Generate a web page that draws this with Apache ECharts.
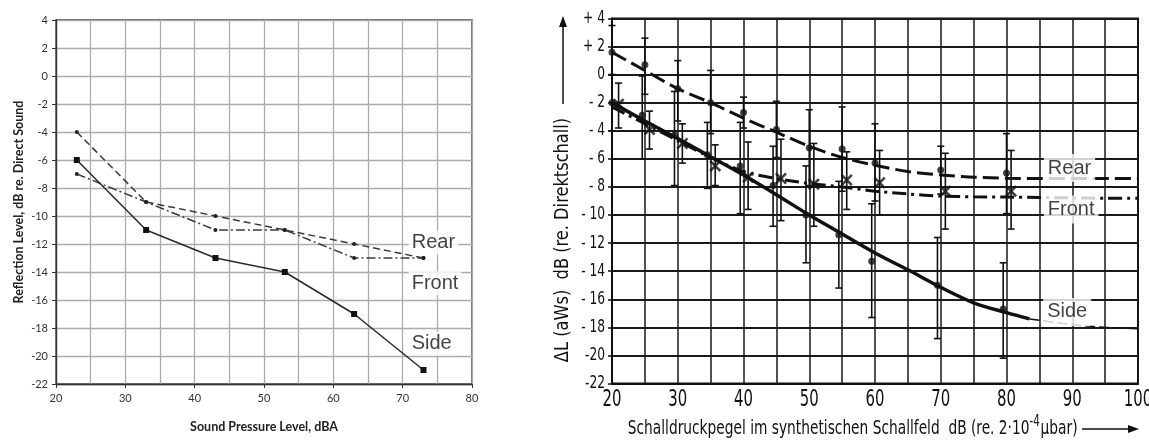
<!DOCTYPE html>
<html>
<head>
<meta charset="utf-8">
<script src="https://cdn.jsdelivr.net/npm/echarts@6/dist/echarts.min.js"></script>
<style>
html,body{margin:0;padding:0;background:#fff;}
#chart{width:1149px;height:440px;}
</style>
</head>
<body>
<div id="chart"></div>
<script>
// ---------- Left chart (Excel re-plot) ----------
const leftX = [23, 33, 43, 53, 63, 73];
const leftRear = [-4, -9, -10, -11, -12, -13];
const leftFront = [-7, -9, -11, -11, -13, -13];
const leftSide = [-6, -11, -13, -14, -17, -21];
const leftXTicks = [20, 30, 40, 50, 60, 70, 80];
const leftYTicks = [4, 2, 0, -2, -4, -6, -8, -10, -12, -14, -16, -18, -20, -22];
const leftLabels = ['Rear', 'Front', 'Side'];
const leftLabelPos = [[70.8, -11.9], [70.8, -14.8], [70.8, -19.1]];

// ---------- Right chart (original scan) ----------
const rightXTicks = [20, 30, 40, 50, 60, 70, 80, 90, 100];
const rightYTicks = [4, 2, 0, -2, -4, -6, -8, -10, -12, -14, -16, -18, -20, -22];

const rearX = [20, 25, 30, 35, 40, 45, 50, 55, 60, 70, 80];
const rearPts = [1.6, 0.7, -1.0, -2.0, -2.7, -3.9, -5.2, -5.3, -6.3, -6.8, -7.0];
const rearLow = [0.0, -1.4, -3.3, -4.2, -3.8, -5.9, -7.9, -8.3, -9.0, -8.5, -9.9];
const rearHigh = [3.5, 2.6, 1.0, 0.3, -1.6, -1.9, -2.5, -2.3, -3.5, -5.1, -4.2];

const sideX = [20, 24.6, 29.5, 34.5, 39.5, 44.5, 49.5, 54.5, 59.5, 69.5, 79.5];
const sidePts = [-2.0, -2.9, -4.3, -5.7, -6.5, -7.9, -10.0, -11.4, -13.3, -15.0, -16.7];
const sideLow = [-4.0, -6.0, -7.9, -8.1, -9.9, -10.8, -13.4, -15.2, -17.3, -18.8, -20.2];
const sideHigh = [0.0, -0.1, -1.2, -3.4, -3.4, -5.1, -6.5, -7.6, -9.2, -11.6, -13.4];

const frontX = [21.0, 25.7, 30.7, 35.7, 40.7, 45.7, 50.7, 55.7, 60.7, 70.7, 80.7];
const frontPts = [-2.1, -3.9, -4.9, -6.5, -7.3, -7.4, -7.8, -7.5, -7.7, -8.3, -8.3];
const frontLow = [-3.8, -5.3, -6.3, -7.9, -9.6, -10.4, -10.8, -9.6, -10.0, -11.0, -11.0];
const frontHigh = [-0.6, -2.6, -3.5, -5.0, -4.8, -4.6, -4.9, -5.5, -5.4, -5.6, -5.4];

const curveX = [20, 25, 30, 35, 40, 45, 50, 55, 60, 65, 70, 75, 80, 85, 90, 95, 100];
const rearCurve = [1.6, 0.3, -1.0, -2.0, -3.1, -4.1, -5.1, -5.9, -6.45, -6.9, -7.15, -7.3, -7.38, -7.4, -7.4, -7.4, -7.4];
const frontCurve = [-2.3, -3.5, -4.7, -5.9, -6.9, -7.4, -7.75, -8.0, -8.3, -8.5, -8.65, -8.7, -8.72, -8.75, -8.78, -8.8, -8.8];
const sideCurveX = [20, 25, 30, 35, 40, 45, 50, 55, 60, 65, 70, 75, 80, 83.5];
const sideCurve = [-2.0, -3.3, -4.55, -5.85, -7.15, -8.55, -10.0, -11.35, -12.7, -13.9, -15.15, -16.25, -16.95, -17.4];
const sideTailX = [83.5, 90, 95, 100];
const sideTail = [-17.4, -17.8, -18.0, -18.1];
const rightLabels = ['Rear', 'Front', 'Side'];
const rightLabelPos = [[85.6, -6.65], [85.6, -9.6], [85.5, -16.9]];
const rightXTitle = 'Schalldruckpegel im synthetischen Schallfeld  dB (re. 2·10';
const rightXTitleSup = '-4';
const rightXTitleEnd = 'μbar)';
const rightYTitle = 'ΔL (aWs)  dB (re. Direktschall)';

// ---------- helpers ----------
const zip = (xs, ys) => xs.map((x, i) => [x, ys[i]]);
const zip3 = (xs, a, b) => xs.map((x, i) => [x, a[i], b[i]]);
const COND = "'Liberation Sans Narrow', 'DejaVu Sans Condensed', 'DejaVu Sans', sans-serif";
const xMark = 'path://M0,1.5 L1.5,0 L5,3.5 L8.5,0 L10,1.5 L6.5,5 L10,8.5 L8.5,10 L5,6.5 L1.5,10 L0,8.5 L3.5,5 Z';

function errBar(params, api) {
  const x = api.value(0);
  const lo = api.coord([x, api.value(1)]);
  const hi = api.coord([x, api.value(2)]);
  const w = 3.5;
  const st = {stroke: '#111', lineWidth: 1.6};
  return {type: 'group', children: [
    {type: 'line', shape: {x1: lo[0], y1: lo[1], x2: hi[0], y2: hi[1]}, style: st},
    {type: 'line', shape: {x1: lo[0] - w, y1: lo[1], x2: lo[0] + w, y2: lo[1]}, style: st},
    {type: 'line', shape: {x1: hi[0] - w, y1: hi[1], x2: hi[0] + w, y2: hi[1]}, style: st}
  ]};
}

function rightYLabel(v) {
  if (v > 0) return '+ ' + v;
  if (v === 0) return '0';
  if (v <= -20) return '-' + Math.abs(v);
  return '- ' + Math.abs(v);
}

function labelSeries(names, pos, xi, extra) {
  return {
    type: 'scatter', xAxisIndex: xi, yAxisIndex: xi, z: 20,
    symbolSize: 1, itemStyle: {color: 'rgba(0,0,0,0)'},
    data: names.map((n, i) => ({name: n, value: pos[i]})),
    label: Object.assign({show: true, position: 'right', distance: 0, formatter: '{b}',
      fontFamily: "'Liberation Sans', Arial, sans-serif", fontSize: 20, color: '#111',
      backgroundColor: '#fff', padding: [2, 3]}, extra || {})
  };
}

const chart = echarts.init(document.getElementById('chart'), null, {renderer: 'canvas'});
chart.setOption({
  animation: false,
  backgroundColor: '#fff',
  grid: [
    {left: 56, top: 20, width: 416, height: 364, show: true, borderColor: '#333', borderWidth: 1.3, backgroundColor: 'transparent'},
    {left: 612, top: 18.5, width: 526, height: 365, show: true, borderColor: '#111', borderWidth: 2, backgroundColor: 'transparent'}
  ],
  xAxis: [
    {gridIndex: 0, type: 'value', min: leftXTicks[0], max: leftXTicks[leftXTicks.length - 1], interval: 10,
      axisLine: {show: true, onZero: false, lineStyle: {color: '#333', width: 1.3}},
      axisTick: {show: true, length: 4, lineStyle: {color: '#333'}},
      axisLabel: {color: '#333', fontSize: 11, fontFamily: 'Lato, sans-serif', margin: 9},
      splitLine: {show: true, lineStyle: {color: '#ababab', width: 1.3}},
      minorTick: {show: false, splitNumber: 2},
      minorSplitLine: {show: true, lineStyle: {color: '#ababab', width: 1.3}},
      name: 'Sound Pressure Level, dBA', nameLocation: 'middle', nameGap: 36,
      nameTextStyle: {fontFamily: 'Lato, sans-serif', fontWeight: 'bold', fontSize: 12.5, color: '#222'}},
    {gridIndex: 1, type: 'value', min: rightXTicks[0], max: rightXTicks[rightXTicks.length - 1], interval: 10,
      axisLine: {show: true, onZero: false, lineStyle: {color: '#111', width: 2}},
      axisTick: {show: false},
      axisLabel: {show: false},
      splitLine: {show: true, lineStyle: {color: '#1a1a1a', width: 1.5}},
      minorTick: {show: false, splitNumber: 2},
      minorSplitLine: {show: true, lineStyle: {color: '#1a1a1a', width: 1.5}}}
  ],
  yAxis: [
    {gridIndex: 0, type: 'value', min: -22, max: 4, interval: 2,
      axisLine: {show: true, onZero: false, lineStyle: {color: '#333', width: 1.3}},
      axisTick: {show: true, length: 4, lineStyle: {color: '#333'}},
      axisLabel: {color: '#333', fontSize: 11, fontFamily: 'Lato, sans-serif', margin: 8},
      splitLine: {show: true, lineStyle: {color: '#ababab', width: 1.3}},
      name: 'Reflection Level, dB re. Direct Sound', nameLocation: 'middle', nameRotate: 90, nameGap: 31,
      nameTextStyle: {fontFamily: 'Lato, sans-serif', fontWeight: 'bold', fontSize: 12.5, color: '#222'}},
    {gridIndex: 1, type: 'value', min: -22, max: 4, interval: 2,
      axisLine: {show: true, onZero: false, lineStyle: {color: '#111', width: 2}},
      axisTick: {show: true, length: 4, lineStyle: {color: '#111', width: 1.5}},
      axisLabel: {show: false},
      splitLine: {show: true, lineStyle: {color: '#1a1a1a', width: 1.8}}}
  ],
  series: [
    // left
    {type: 'line', xAxisIndex: 0, yAxisIndex: 0, data: zip(leftX, leftRear),
      lineStyle: {color: '#3a3a3a', width: 1.5, type: [7, 4]}, symbol: 'circle', symbolSize: 4,
      itemStyle: {color: '#222'}},
    {type: 'line', xAxisIndex: 0, yAxisIndex: 0, data: zip(leftX, leftFront),
      lineStyle: {color: '#3a3a3a', width: 1.5, type: [9, 3, 2, 3]}, symbol: 'circle', symbolSize: 4,
      itemStyle: {color: '#222'}},
    {type: 'line', xAxisIndex: 0, yAxisIndex: 0, data: zip(leftX, leftSide),
      lineStyle: {color: '#2a2a2a', width: 1.5}, symbol: 'rect', symbolSize: 6,
      itemStyle: {color: '#111'}},
    labelSeries(leftLabels, leftLabelPos, 0),
    // right curves
    {type: 'line', xAxisIndex: 1, yAxisIndex: 1, data: zip(curveX, rearCurve), smooth: 0.3, symbol: 'none',
      lineStyle: {color: '#111', width: 3, type: [16, 6]}},
    {type: 'line', xAxisIndex: 1, yAxisIndex: 1, data: zip(curveX, frontCurve), smooth: 0.3, symbol: 'none',
      lineStyle: {color: '#111', width: 3, type: [14, 5, 3, 5]}},
    {type: 'line', xAxisIndex: 1, yAxisIndex: 1, data: zip(sideCurveX, sideCurve), smooth: 0.3, symbol: 'none',
      lineStyle: {color: '#111', width: 3.5}},
    {type: 'line', xAxisIndex: 1, yAxisIndex: 1, data: zip(sideTailX, sideTail), smooth: 0.3, symbol: 'none',
      lineStyle: {color: '#111', width: 1.5, type: [10, 4]}},
    // error bars
    {type: 'custom', xAxisIndex: 1, yAxisIndex: 1, renderItem: errBar, data: zip3(rearX, rearLow, rearHigh), z: 5},
    {type: 'custom', xAxisIndex: 1, yAxisIndex: 1, renderItem: errBar, data: zip3(sideX, sideLow, sideHigh), z: 5},
    {type: 'custom', xAxisIndex: 1, yAxisIndex: 1, renderItem: errBar, data: zip3(frontX, frontLow, frontHigh), z: 5},
    // points
    {type: 'scatter', xAxisIndex: 1, yAxisIndex: 1, data: zip(rearX, rearPts), symbol: 'circle', symbolSize: 7,
      itemStyle: {color: '#111'}, z: 6},
    {type: 'scatter', xAxisIndex: 1, yAxisIndex: 1, data: zip(sideX, sidePts), symbol: 'circle', symbolSize: 7,
      itemStyle: {color: '#111'}, z: 6},
    {type: 'scatter', xAxisIndex: 1, yAxisIndex: 1, data: zip(frontX, frontPts), symbol: xMark, symbolSize: 12,
      itemStyle: {color: '#111'}, z: 6},
    labelSeries(rightLabels, rightLabelPos, 1, {padding: [4, 4]})
  ]
});

// Condensed lettering for the scanned chart: tick labels and titles placed via the axis scales
const px = v => chart.convertToPixel({xAxisIndex: 1}, v);
const py = v => chart.convertToPixel({yAxisIndex: 1}, v);
const g = [];
const xLabY = py(-22) + 17;
rightXTicks.forEach(v => g.push({type: 'text', x: px(v), y: xLabY, scaleX: 0.72, z: 10,
  style: {text: String(v), font: '23px ' + COND, fill: '#111', align: 'center', verticalAlign: 'middle'}}));
const yLabX = px(20) - 7;
rightYTicks.forEach(v => g.push({type: 'text', x: yLabX, y: py(v), scaleX: 0.8, z: 10,
  style: {text: rightYLabel(v), font: '17px ' + COND, fill: '#111', align: 'right', verticalAlign: 'middle'}}));
// x title
g.push({type: 'text', x: px(22.4), y: 429, scaleX: 0.765, z: 10,
  style: {text: '{p|' + rightXTitle + '}{s|' + rightXTitleSup + '}{p|' + rightXTitleEnd + '}',
    align: 'left', verticalAlign: 'middle',
    rich: {p: {font: '20px ' + COND, fill: '#111'}, s: {font: '15px ' + COND, fill: '#111', padding: [0, 1, 14, 0]}}}});
g.push({type: 'line', shape: {x1: 1082, y1: 429, x2: 1128, y2: 429}, style: {stroke: '#111', lineWidth: 1.5}, z: 10});
g.push({type: 'polygon', shape: {points: [[1139, 429], [1128, 425], [1128, 433]]}, style: {fill: '#111'}, z: 10});
// y title
g.push({type: 'text', x: 563, y: 240, rotation: Math.PI / 2, scaleX: 0.95, z: 10,
  style: {text: rightYTitle, font: '19px ' + COND, fill: '#111', align: 'center', verticalAlign: 'middle'}});
g.push({type: 'line', shape: {x1: 563, y1: 104, x2: 563, y2: 26}, style: {stroke: '#111', lineWidth: 1.5}, z: 10});
g.push({type: 'polygon', shape: {points: [[563, 16], [559, 27], [567, 27]]}, style: {fill: '#111'}, z: 10});
chart.setOption({graphic: g});
</script>
</body>
</html>
